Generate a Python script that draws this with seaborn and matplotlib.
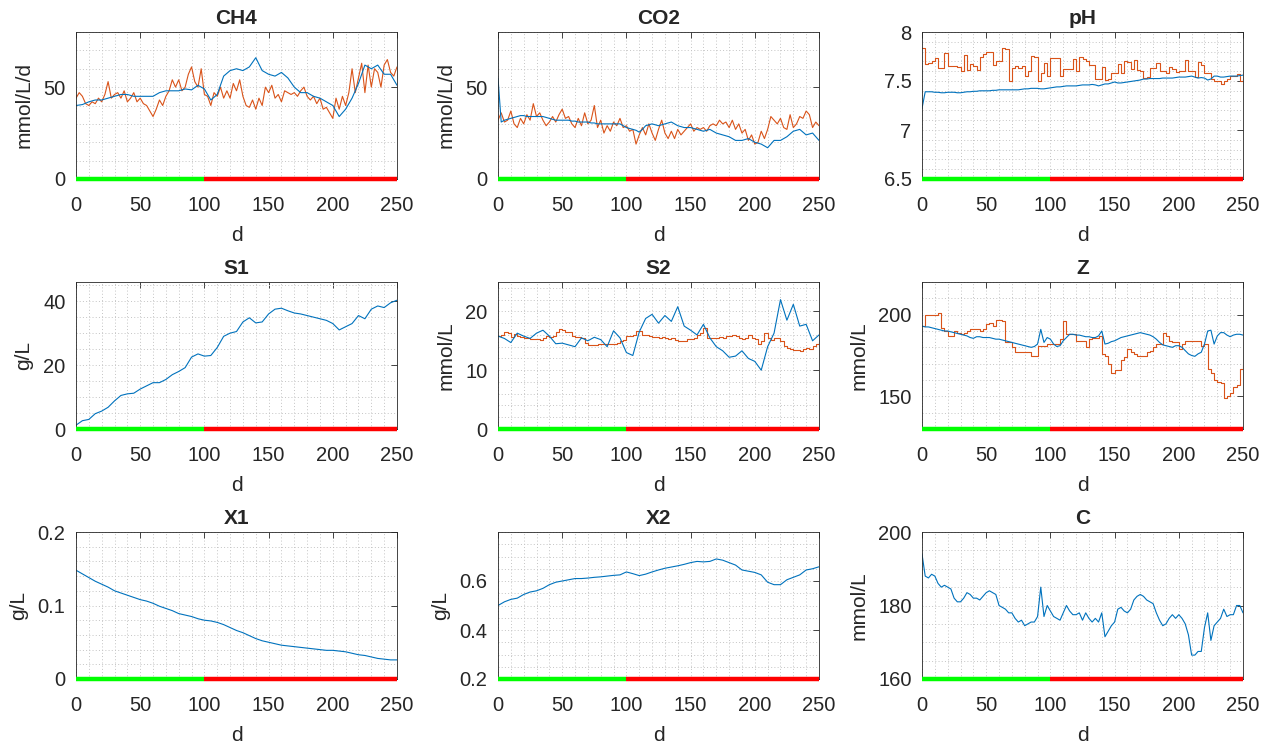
import numpy as np
import pandas as pd
import matplotlib
matplotlib.use('Agg')
import matplotlib.pyplot as plt
import seaborn as sns
from matplotlib.ticker import MultipleLocator, FixedLocator, FormatStrFormatter

# phase bar along the bottom of each panel (start-up / perturbation)
phase_edges = [0, 100, 250]
phase_colors = ['#00ff00', '#ff0000']

# ---- CH4 (mmol/L/d) ----
ch4_model = [40, 40.5, 42, 43, 43, 44, 45, 46, 46, 45, 45, 45, 45, 47, 48, 48, 48, 49, 48.5, 51,
             49, 43, 46, 56, 59, 60, 59, 61, 66, 59, 57, 56, 58, 55, 50, 47, 47, 45, 44, 42,
             40, 34, 38, 44, 52, 62, 60, 62, 57, 57, 51]
ch4_meas = [44, 47, 45, 41, 40, 42, 41, 44, 42, 46, 53, 44, 46, 47, 44, 48, 42, 44, 47, 42,
            44, 41, 40, 37, 34, 38, 43, 40, 45, 48, 54, 50, 54, 48, 50, 57, 61, 53, 50, 60,
            46, 45, 40, 47, 45, 50, 44, 48, 44, 52, 48, 54, 45, 40, 39, 43, 38, 44, 40, 50,
            47, 51, 44, 46, 42, 48, 47, 46, 47, 45, 48, 50, 45, 43, 45, 41, 44, 38, 39, 36,
            33, 44, 38, 45, 40, 47, 60, 47, 55, 63, 47, 62, 50, 60, 58, 50, 62, 65, 58, 56, 61]

# ---- CO2 (mmol/L/d) ----
co2_model = [55, 31, 32, 32.5, 33, 33.5, 34, 34.5, 34.5, 34, 34, 34, 34, 34, 34, 33.5, 33, 32.5, 32, 32,
             32, 32, 32, 31.5, 31.5, 31, 31, 31, 31, 30.5, 30.5, 30, 30, 30, 30, 30, 30, 30, 30, 29,
             28, 27.5, 27, 26.5, 25.5, 27, 29, 29.5, 30, 29.5, 29, 29.5, 30, 30.5, 31, 30, 29, 28.5, 28, 28,
             28, 27.5, 27, 26.5, 26, 26.5, 27, 26, 25, 24.5, 24, 23.5, 23, 22, 21, 21, 21, 21.5, 22, 21,
             20, 19.5, 19, 18, 17, 19, 21, 21, 21, 22, 23, 24.5, 26, 26.5, 27, 25.5, 24, 24.5, 25, 23, 21]
co2_meas = [32, 36, 31, 32, 37, 30, 28, 33, 30, 35, 32, 41, 34, 36, 32, 29, 31, 34, 31, 35,
            38, 33, 34, 30, 28, 33, 29, 36, 30, 32, 40, 28, 32, 25, 29, 26, 31, 29, 33, 28,
            29, 26, 27, 19, 24, 28, 24, 30, 25, 21, 27, 32, 25, 22, 26, 22, 27, 24, 26, 28,
            30, 26, 28, 27, 28, 26, 29, 30, 29, 32, 30, 31, 28, 32, 27, 30, 25, 27, 21, 24,
            19, 20, 26, 22, 27, 34, 32, 30, 33, 28, 27, 35, 28, 30, 34, 33, 37, 35, 28, 31, 29]

# ---- pH ----
ph_model = [7.22, 7.39, 7.39, 7.39, 7.385, 7.385, 7.38, 7.38, 7.385, 7.385, 7.385, 7.38, 7.38, 7.385, 7.39, 7.39,
            7.395, 7.395, 7.40, 7.40, 7.40, 7.40, 7.405, 7.405, 7.41, 7.41, 7.41, 7.41, 7.41, 7.41, 7.41, 7.415,
            7.42, 7.42, 7.425, 7.425, 7.425, 7.42, 7.42, 7.425, 7.43, 7.435, 7.44, 7.44, 7.445, 7.45, 7.45, 7.45,
            7.45, 7.455, 7.46, 7.46, 7.46, 7.465, 7.46, 7.45, 7.46, 7.47, 7.47, 7.48, 7.49, 7.48, 7.48, 7.485,
            7.49, 7.495, 7.50, 7.505, 7.51, 7.52, 7.52, 7.525, 7.525, 7.525, 7.525, 7.53, 7.53, 7.53, 7.53, 7.535,
            7.54, 7.54, 7.54, 7.545, 7.55, 7.54, 7.53, 7.535, 7.53, 7.51, 7.52, 7.55, 7.55, 7.54, 7.54, 7.545,
            7.55, 7.55, 7.55, 7.555, 7.56]
ph_meas = [7.84, 7.67, 7.68, 7.70, 7.73, 7.63, 7.63, 7.79, 7.65, 7.65, 7.65, 7.64, 7.60, 7.77, 7.61, 7.67,
           7.65, 7.61, 7.74, 7.78, 7.80, 7.80, 7.66, 7.70, 7.70, 7.84, 7.83, 7.50, 7.63, 7.65, 7.63, 7.65,
           7.55, 7.60, 7.76, 7.75, 7.50, 7.58, 7.68, 7.55, 7.73, 7.73, 7.73, 7.55, 7.62, 7.62, 7.62, 7.72,
           7.60, 7.74, 7.72, 7.70, 7.66, 7.66, 7.52, 7.52, 7.64, 7.51, 7.52, 7.58, 7.58, 7.67, 7.58, 7.70,
           7.69, 7.62, 7.71, 7.61, 7.60, 7.53, 7.54, 7.63, 7.63, 7.68, 7.60, 7.60, 7.58, 7.64, 7.62, 7.59,
           7.60, 7.60, 7.71, 7.60, 7.60, 7.54, 7.69, 7.66, 7.58, 7.58, 7.52, 7.50, 7.50, 7.47, 7.50, 7.52,
           7.55, 7.55, 7.57, 7.50, 7.52]

# ---- S1 (g/L) ----
s1_model = [1.2, 2.6, 3.0, 4.8, 5.6, 6.8, 8.8, 10.5, 11, 11.2, 12.5, 13.5, 14.5, 14.5, 15.5, 17, 18, 19.2, 22.5, 23.5,
            22.8, 23, 25.5, 29, 30, 30.5, 33.5, 34.8, 33.2, 33.5, 36, 37.5, 37.8, 37, 36.3, 36, 35.5, 35, 34.5, 34,
            33, 31, 32, 33, 35.5, 34.5, 37.5, 38.5, 38, 39.5, 40.3]

# ---- S2 (mmol/L) ----
s2_model = [15.8, 15.4, 14.7, 16.3, 15.8, 15.4, 16.3, 16.8, 15.8, 14.5, 14.6, 14.3, 14.0, 15.5, 15.0, 15.6, 15.2, 14.0,
            16.7, 15.5, 13.0, 12.5, 16.5, 18.8, 19.5, 18.0, 19.3, 18.3, 20.8, 17.5, 16.8, 16.0, 17.8, 15.5, 14.0, 13.3,
            12.2, 12.4, 13.3, 12.0, 11.5, 10.0, 14.0, 16.3, 22.0, 18.5, 21.2, 17.5, 17.8, 15.0, 16.0]
s2_meas = [15.8, 16.0, 16.5, 16.3, 15.6, 16.2, 15.8, 15.6, 15.5, 15.5, 15.3, 15.3, 15.3, 15.2, 15.4, 15.8,
           15.6, 15.8, 16.5, 17.0, 16.8, 16.5, 16.5, 15.8, 15.6, 15.7, 15.5, 14.6, 14.3, 14.3, 14.3, 14.4,
           14.5, 14.4, 14.4, 14.4, 14.5, 14.6, 15.0, 15.2, 15.8, 15.9, 16.0, 16.6, 16.6, 16.0, 16.0, 15.8,
           15.7, 15.6, 15.5, 15.6, 15.5, 15.3, 15.5, 15.2, 15.0, 15.0, 15.0, 15.3, 15.3, 15.4, 16.0, 16.3,
           17.2, 15.5, 15.5, 15.4, 15.5, 15.6, 15.5, 15.8, 15.8, 16.0, 15.8, 15.5, 15.3, 15.5, 16.0, 15.5,
           15.3, 14.5, 15.0, 16.3, 15.5, 15.2, 15.4, 15.5, 15.0, 14.2, 13.8, 13.6, 13.5, 13.4, 13.3, 13.6,
           13.8, 13.6, 14.2, 14.5, 14.8]

# ---- Z (mmol/L) ----
z_model = [193, 192.5, 192.5, 192, 191.5, 191, 190.5, 190, 190, 189.5, 189, 188.5, 188, 187.5, 187, 186,
           185.5, 186.5, 186.5, 186, 186, 186, 185.5, 185, 185, 184.5, 184, 183.5, 183, 182.5, 182, 181.5,
           181, 180.5, 180, 180.5, 182, 191, 183, 186, 185, 182, 180.5, 181, 184, 186, 188, 188,
           187.5, 187.5, 187, 186.5, 186.5, 186, 186, 187, 190, 182, 182.5, 183.5, 184, 185, 186, 186.5,
           187, 187.5, 188, 188.5, 189, 188.5, 188, 187.5, 186.5, 185, 183, 181.5, 181, 180.5, 180, 181,
           181, 180, 178, 176, 175, 174.5, 176, 177, 182, 190, 190.5, 182, 187, 189, 189, 187.5,
           186.5, 187.5, 188, 188, 187.5]
z_meas = [193, 200, 200, 200, 200, 201, 192, 190, 187, 187, 190, 189, 188, 189, 190, 191,
          191, 191, 190, 191, 194, 195, 193, 197, 197, 196, 183, 183, 180, 177, 177, 177,
          177, 177, 175, 175, 181, 181, 181, 182, 182, 182, 182, 185, 196, 188, 188, 188,
          184, 184, 184, 180, 185, 186, 186, 187, 176, 175, 170, 164, 166, 166, 172, 174,
          179, 177, 176, 175, 175, 175, 177, 178, 180, 182, 182, 189, 187, 184, 183, 183,
          179, 182, 184, 184, 184, 184, 184, 181, 182, 167, 164, 160, 159, 158, 149, 150,
          152, 156, 157, 167, 170]

# ---- X1 (g/L) ----
x1_model = [0.148, 0.143, 0.138, 0.133, 0.129, 0.125, 0.120, 0.117, 0.114, 0.111, 0.108, 0.106, 0.103, 0.099,
            0.096, 0.093, 0.089, 0.087, 0.085, 0.082, 0.080, 0.079, 0.077, 0.074, 0.070, 0.066, 0.063, 0.059,
            0.055, 0.052, 0.050, 0.048, 0.046, 0.045, 0.044, 0.043, 0.042, 0.041, 0.040, 0.039, 0.039, 0.038,
            0.037, 0.035, 0.033, 0.032, 0.030, 0.028, 0.027, 0.026, 0.026]

# ---- X2 (g/L) ----
x2_model = [0.500, 0.515, 0.525, 0.530, 0.545, 0.555, 0.560, 0.570, 0.585, 0.595, 0.600, 0.605, 0.610, 0.610,
            0.612, 0.615, 0.617, 0.620, 0.623, 0.625, 0.637, 0.630, 0.622, 0.628, 0.637, 0.645, 0.652, 0.657,
            0.662, 0.668, 0.675, 0.680, 0.678, 0.680, 0.690, 0.685, 0.675, 0.665, 0.645, 0.640, 0.635, 0.625,
            0.595, 0.585, 0.585, 0.605, 0.615, 0.625, 0.645, 0.650, 0.658]

# ---- C (mmol/L) ----
c_model = [194, 188, 187.5, 188.5, 188, 186, 185, 185.5, 185, 184.5, 182, 181, 181, 182, 183.5, 183,
           182, 182, 181.5, 182.5, 183.5, 184, 183.5, 183, 180, 179.5, 179, 178, 178, 176.5, 175.5, 176,
           174.5, 175, 175.5, 175.5, 177, 185, 177, 180, 178.5, 177, 176.5, 176, 178, 180, 178.5, 177.5,
           177.5, 178, 176, 178, 176.5, 175.5, 176.5, 175.5, 178, 171.5, 173, 174.5, 175.5, 179, 179.5, 178.5,
           178, 179, 181.5, 182.5, 183, 182.5, 181.5, 181, 180.5, 178, 176, 174.5, 175, 176.5, 177.5, 176.5,
           177.5, 176.5, 175, 172, 166.5, 166.5, 167.5, 167.5, 174, 178, 170.5, 174.5, 175.5, 176.5, 179, 177,
           177.5, 177.5, 180, 180, 178]

# y tick labels shown per panel
ch4_ticks = [0, 50]
co2_ticks = [0, 50]
ph_ticks = [6.5, 7, 7.5, 8]
s1_ticks = [0, 20, 40]
s2_ticks = [0, 10, 20]
z_ticks = [150, 200]
x1_ticks = [0, 0.1, 0.2]
x2_ticks = [0.2, 0.4, 0.6]
c_ticks = [160, 180, 200]

BLUE = '#0072BD'
ORANGE = '#D95319'
AXCOL = '#262626'

panels = [
    ('CH4', 'mmol/L/d', (0, 80), ch4_ticks, 10, ch4_model, ch4_meas, False),
    ('CO2', 'mmol/L/d', (0, 80), co2_ticks, 10, co2_model, co2_meas, False),
    ('pH', '', (6.5, 8), ph_ticks, 0.1, ph_model, ph_meas, True),
    ('S1', 'g/L', (0, 46), s1_ticks, 5, s1_model, None, False),
    ('S2', 'mmol/L', (0, 25), s2_ticks, 2, s2_model, s2_meas, True),
    ('Z', 'mmol/L', (130, 220), z_ticks, 10, z_model, z_meas, True),
    ('X1', 'g/L', (0, 0.2), x1_ticks, 0.02, x1_model, None, False),
    ('X2', 'g/L', (0.2, 0.8), x2_ticks, 0.05, x2_model, None, False),
    ('C', 'mmol/L', (160, 200), c_ticks, 5, c_model, None, False),
]


def series_frame(vals):
    return pd.DataFrame({'d': np.linspace(0, 250, len(vals)), 'v': vals})


sns.set_style('white')
plt.rcParams['font.family'] = ['Liberation Sans', 'DejaVu Sans']

fig = plt.figure(figsize=(12.73, 7.46), dpi=100)
lefts = [76, 498, 922]
bottoms = [179, 429, 679]
W, H = 321, 147

for i, (title, ylab, ylim, yticks, minor, model, meas, stepped) in enumerate(panels):
    r, c = divmod(i, 3)
    ax = fig.add_axes([lefts[c] / 1273, 1 - bottoms[r] / 746, W / 1273, H / 746])

    if meas is not None:
        sns.lineplot(data=series_frame(meas), x='d', y='v', ax=ax, color=ORANGE, lw=0.8,
                     estimator=None, drawstyle='steps-post' if stepped else 'default')
    sns.lineplot(data=series_frame(model), x='d', y='v', ax=ax, color=BLUE, lw=0.8, estimator=None)

    for k in range(2):
        ax.plot(phase_edges[k:k + 2], [ylim[0], ylim[0]], color=phase_colors[k], lw=3.2,
                solid_capstyle='butt', clip_on=False, zorder=5)

    ax.set_xlim(0, 250)
    ax.set_ylim(*ylim)
    ax.xaxis.set_major_locator(MultipleLocator(50))
    ax.xaxis.set_minor_locator(MultipleLocator(10))
    ax.yaxis.set_major_locator(FixedLocator(yticks))
    ax.yaxis.set_minor_locator(MultipleLocator(minor))
    ax.yaxis.set_major_formatter(FormatStrFormatter('%g'))
    ax.grid(True, which='both', color='#c4c4c4', lw=0.7, ls=(0, (1, 2.3)))
    ax.set_axisbelow(True)

    ax.tick_params(which='major', direction='in', length=4, width=0.6, colors=AXCOL,
                   labelsize=14.5, top=True, right=True)
    ax.tick_params(axis='x', which='major', pad=12.5)
    ax.tick_params(axis='y', which='major', pad=7.5)
    ax.tick_params(which='minor', direction='in', length=0, top=True, right=True)
    for s in ax.spines.values():
        s.set_color(AXCOL)
        s.set_linewidth(0.6)

    ax.set_title(title, fontsize=15, fontweight='bold', pad=6)
    ax.set_xlabel('d', fontsize=15, labelpad=8)
    ax.set_ylabel(ylab, fontsize=15, labelpad=7)

fig.savefig('out.png', dpi=100)
